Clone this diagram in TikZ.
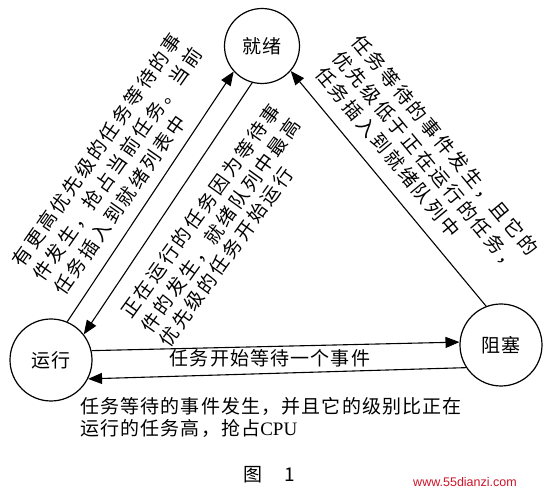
\documentclass[tikz,border=0pt]{standalone}
\usepackage{fontspec}
\setmainfont{Liberation Serif}
\newfontfamily\cjkA[LetterSpace=14]{Noto Sans CJK SC}
\newfontfamily\cjkB[LetterSpace=6]{Noto Sans CJK SC}
\newfontfamily\wmfont{Liberation Sans}
\usetikzlibrary{arrows.meta}
\definecolor{wmred}{RGB}{204,20,40}
\begin{document}
\begin{tikzpicture}[x=1pt,y=-1pt,
  state/.style={draw,circle,line width=1.2pt,inner sep=0pt,font=\fontsize{19}{19}\cjkB},
  conn/.style={line width=1.1pt,-{Triangle[length=14pt,width=11pt]}},
  rtext/.style={inner sep=0pt,font=\fontsize{19}{20}\cjkA},
  btext/.style={inner sep=0pt,font=\fontsize{19}{20}\cjkB}]
\useasboundingbox (0,0) rectangle (550,494);
\fill[white] (0,0) rectangle (550,494);
% states
\node[state,minimum size=75pt] (ready) at (262,46) {就绪};
\node[state,minimum size=82pt] (run) at (51,360) {运行};
\node[state,minimum size=82pt] (block) at (501,345) {阻塞};
% connectors
\draw[conn] (run.67) -- (ready.222);
\draw[conn] (ready.255) -- (run.38);
\draw[conn] (block.111) -- (ready.319);
\draw[conn] (run.13) -- (block.176);
\draw[conn] (block.213) -- (run.333);
% left block
\node[rtext,rotate=55] (l1) at (97,150) {有更高优先级的任务等待的事};
\node[rtext,rotate=55] (l2) at (117.5,164.5) {件发生，抢占当前任务。当前};
\node[rtext,rotate=55] (l3) at (120,205) {任务插入到就绪列表中};
% middle block
\node[rtext,rotate=54.3] (m1) at (200.5,211) {正在运行的任务因为等待事};
\node[rtext,rotate=54.3] (m2) at (220.5,225.5) {件的发生，就绪队列中最高};
\node[rtext,rotate=54.3] (m3) at (226,257) {优先级的任务开始运行};
% right block
\node[rtext,rotate=-50.3] (r1) at (445,145) {任务等待的事件发生，且它的};
\node[rtext,rotate=-50.3] (r2) at (426,161) {优先级低于正在运行的任务，};
\node[rtext,rotate=-50.3] (r3) at (388,152) {任务插入到就绪队列中};
% bottom texts
\node[btext] (b0) at (270,358) {任务开始等待一个事件};
\node[btext,anchor=west] (b1) at (80,406) {任务等待的事件发生，并且它的级别比正在};
\node[btext,anchor=west] (b2) at (80,428) {运行的任务高，抢占{\rmfamily CPU}};
% caption and watermark
\node[btext,anchor=west] (cap) at (243,475) {图\hspace{22pt}1};
\node[inner sep=0pt,text=wmred,font=\fontsize{12.5}{13}\wmfont] (wm) at (465,482) {www.55dianzi.com};
\end{tikzpicture}
\end{document}
